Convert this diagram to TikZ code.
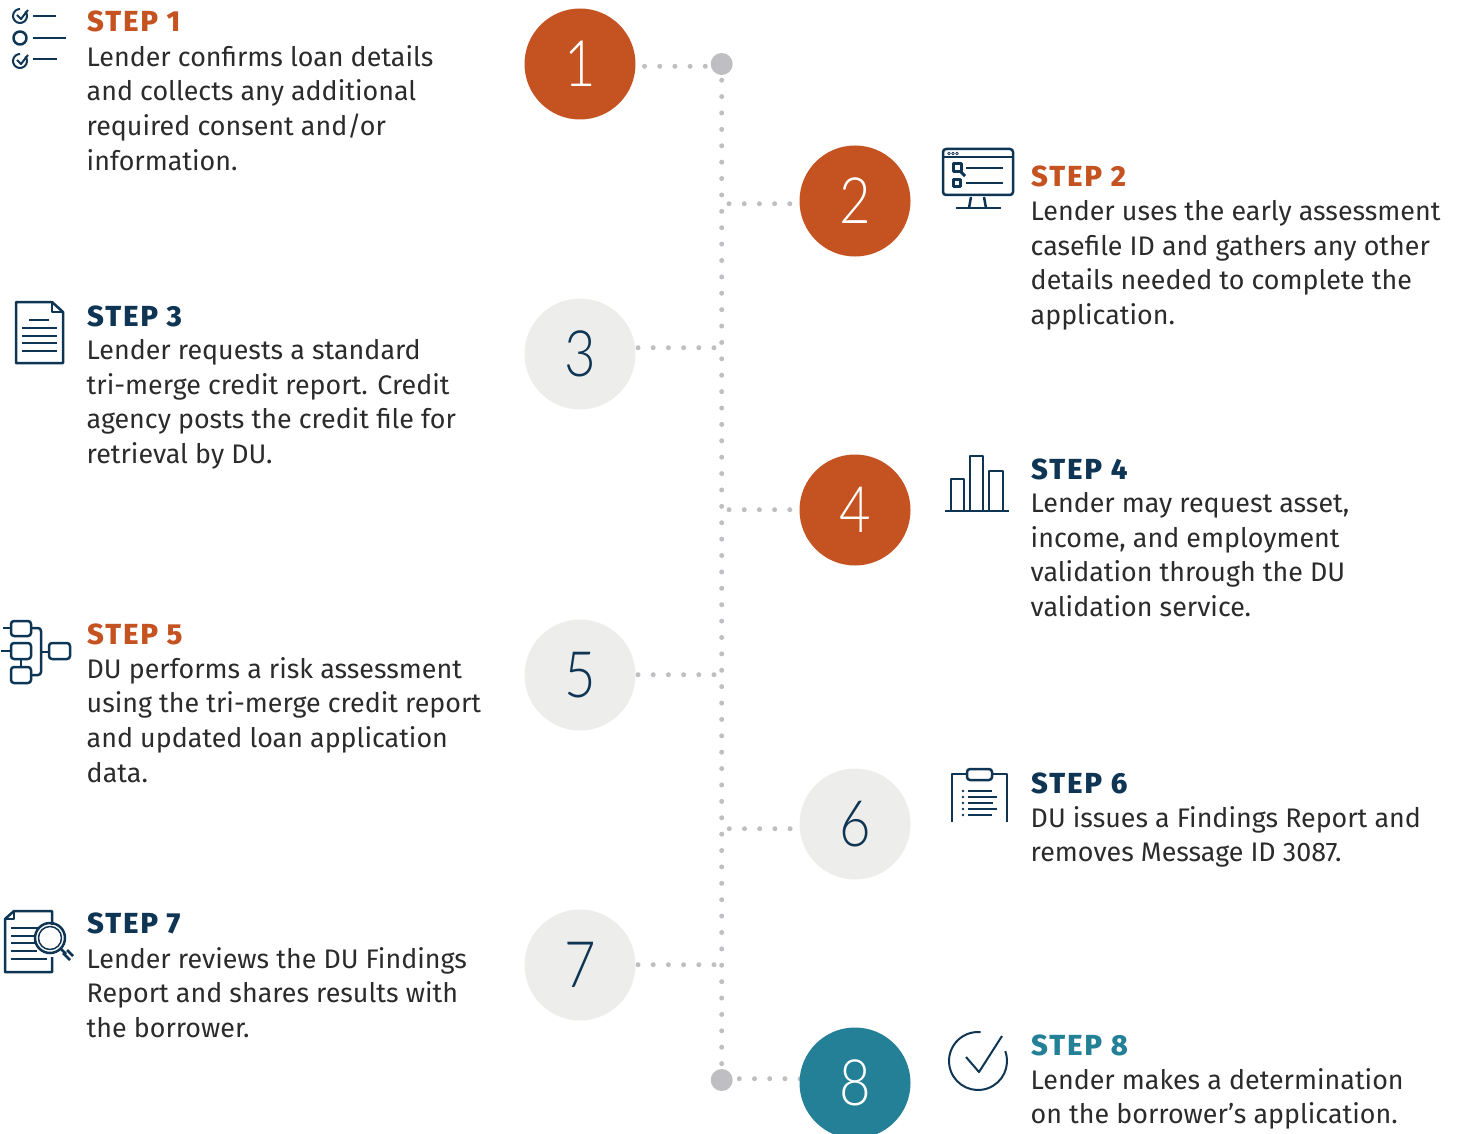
\documentclass[tikz,border=0pt]{standalone}
\usepackage{fontspec}
\usetikzlibrary{backgrounds}
\setmainfont{Fira Sans}
\newfontfamily\numfont[FakeStretch=.85]{Lato Light}
\newfontfamily\headfont[LetterSpace=7]{Fira Sans ExtraBold}
\definecolor{rust}{HTML}{C55321}
\definecolor{teal}{HTML}{238096}
\definecolor{navy}{HTML}{0F3554}
\definecolor{pale}{HTML}{EDEDEB}
\definecolor{dotgray}{HTML}{BFBFC3}
\definecolor{inkgray}{HTML}{2B2B2B}

\begin{document}
\begin{tikzpicture}[x=1pt, y=-1pt, line join=round]
\tikzstyle{every node}=[inner sep=0pt]
\tikzstyle{dotline}=[dotgray, line width=5pt, line cap=round, dash pattern=on 0pt off 16.39pt]
\tikzstyle{hdotline}=[dotgray, line width=5pt, line cap=round, dash pattern=on 0pt off 15.2pt]
\tikzstyle{numdisc}=[circle, minimum size=111pt, font=\numfont\fontsize{64}{64}\selectfont]
\tikzstyle{enddot}=[circle, minimum size=22pt, fill=dotgray]
\tikzstyle{stephead}=[anchor=base west, font=\headfont\fontsize{29}{34}\selectfont]
\tikzstyle{stepbody}=[anchor=north west, align=left, text=inkgray, font=\fontsize{26.85}{34.7}\selectfont, execute at begin node=\strut]
\tikzstyle{icon}=[navy, line width=2.5pt]
\tikzstyle{thinicon}=[navy, line width=2pt]
\useasboundingbox (0,0) rectangle (1458,1134);

\coordinate (j1) at (705.3,66.3);
\coordinate (j2) at (729,203.7);
\coordinate (j3) at (714,347.7);
\coordinate (j4) at (729,509.7);
\coordinate (j5) at (714,674.7);
\coordinate (j6) at (729.3,828.7);
\coordinate (j7) at (714,964.7);
\coordinate (j8) at (739.3,1078.7);

\node [enddot] (top) at (721.7,64) {};
\node [enddot] (bot) at (721.7,1080) {};
\node [numdisc, fill=rust, text=white] (c1) at (580,64) {1};
\node [numdisc, fill=rust, text=white] (c2) at (855,201) {2};
\node [numdisc, fill=pale, text=navy] (c3) at (580,354) {3};
\node [numdisc, fill=rust, text=white] (c4) at (855,510) {4};
\node [numdisc, fill=pale, text=navy] (c5) at (580,675) {5};
\node [numdisc, fill=pale, text=navy] (c6) at (855,824) {6};
\node [numdisc, fill=pale, text=navy] (c7) at (580,965) {7};
\node [numdisc, fill=teal, text=white] (c8) at (855,1083) {8};

\begin{scope}[on background layer]
\draw [dotline] (bot.center) -- (top.center);
\draw [hdotline] (j1) -- (c1.center |- j1);
\draw [hdotline] (j2) -- (c2.center |- j2);
\draw [hdotline] (j3) -- (c3.center |- j3);
\draw [hdotline] (j4) -- (c4.center |- j4);
\draw [hdotline] (j5) -- (c5.center |- j5);
\draw [hdotline] (j6) -- (c6.center |- j6);
\draw [hdotline] (j7) -- (c7.center |- j7);
\draw [hdotline] (j8) -- (c8.center |- j8);
\end{scope}

\node [stephead, text=rust] (s1) at (87,32) {STEP 1};
\node [stepbody] (b1) at (86.5,45) {Lender confirms loan details\\and collects any additional\\required consent and/or\\information.};
\node [stephead, text=rust] (s2) at (1031,186) {STEP 2};
\node [stepbody] (b2) at (1030.5,200) {Lender uses the early assessment\\casefile ID and gathers any other\\details needed to complete the\\application.};
\node [stephead, text=navy] (s3) at (87,326) {STEP 3};
\node [stepbody] (b3) at (86.5,339) {Lender requests a standard\\tri-merge credit report. Credit\\agency posts the credit file for\\retrieval by DU.};
\node [stephead, text=navy] (s4) at (1031,479) {STEP 4};
\node [stepbody] (b4) at (1030.5,492) {Lender may request asset,\\income, and employment\\validation through the DU\\validation service.};
\node [stephead, text=rust] (s5) at (87,644) {STEP 5};
\node [stepbody] (b5) at (86.5,657) {DU performs a risk assessment\\using the tri-merge credit report\\and updated loan application\\data.};
\node [stephead, text=navy] (s6) at (1031,793) {STEP 6};
\node [stepbody] (b6) at (1030.5,806) {DU issues a Findings Report and\\removes Message ID 3087.};
\node [stephead, text=navy] (s7) at (87,933) {STEP 7};
\node [stepbody] (b7) at (86.5,947) {Lender reviews the DU Findings\\Report and shares results with\\the borrower.};
\node [stephead, text=teal] (s8) at (1031,1055) {STEP 8};
\node [stepbody] (b8) at (1030.5,1068) {Lender makes a determination\\on the borrower’s application.};

% checklist
\draw [thinicon] (20,16) ++(-40:7) arc[start angle=-40, end angle=270, radius=7];
\draw [thinicon] (17,15) -- (21,19) -- (28,10);
\draw [icon] (33,16) -- (56,16);
\draw [icon] (20,38) circle [radius=6.5];
\draw [icon] (33,38) -- (66,38);
\draw [thinicon] (20,61) ++(-40:7) arc[start angle=-40, end angle=270, radius=7];
\draw [thinicon] (17,60) -- (21,64) -- (28,55);
\draw [icon] (33,59) -- (57,59);

% monitor
\draw [icon, rounded corners=3pt] (943,149) rectangle (1013,195);
\draw [icon] (943,157) -- (1013,157);
\foreach \x in {949,953,957} \draw [navy, line width=.7pt] (\x,153.5) circle [radius=1.4];
\draw [icon, line width=3pt] (953,164) rectangle (961,172);
\draw [icon, line width=3pt] (961,172) -- (965,176);
\draw [icon] (966,168) -- (1003,168);
\draw [icon, line width=3pt] (953,180) rectangle (960,187);
\draw [icon] (966,183) -- (1003,183);
\draw [icon] (971,197) -- (969,208);
\draw [icon] (984,197) -- (986,208);
\draw [icon] (956,208) -- (1001,208);

% page
\draw [icon] (52,302) -- (16,302) -- (16,363) -- (63,363) -- (63,312) -- cycle;
\draw [icon] (52,302) -- (52,312) -- (63,312);
\draw [icon] (29,320) -- (49,320);
\foreach \y in {328,336,343,351} \draw [icon] (22,\y) -- (57,\y);

% bars
\draw [icon] (951,511) -- (951,479) -- (964,479) -- (964,511);
\draw [icon] (970,511) -- (970,456) -- (983,456) -- (983,511);
\draw [icon] (989,511) -- (989,471) -- (1003,471) -- (1003,511);
\draw [icon] (945,511) -- (1009,511);

% flow chart
\draw [icon, rounded corners=3pt] (11,621) rectangle (31,636);
\draw [icon, rounded corners=3pt] (11,643) rectangle (31,659);
\draw [icon, rounded corners=3pt] (11,667) rectangle (31,683);
\draw [icon, rounded corners=3pt] (49,643) rectangle (70,659);
\draw [icon] (3,628) -- (11,628);
\draw [icon] (1,651) -- (11,651);
\draw [icon] (21,659) -- (21,667);
\draw [icon, rounded corners=3pt] (31,628) -- (41,628) -- (41,675) -- (31,675);
\draw [icon] (41,652) -- (49,652);

% clipboard
\draw [icon] (952,822) -- (952,774) -- (967,774);
\draw [icon] (992,774) -- (1007,774) -- (1007,822);
\draw [icon, rounded corners=3pt] (967,769) rectangle (992,780);
\foreach \y/\xe in {791/992,797/997,803/993,809/997,815/992} {
  \fill [navy] (963,\y) circle [radius=1.4];
  \draw [icon, line width=2pt] (968,\y) -- (\xe,\y);
}

% report and lens
\draw [icon] (52,925) -- (52,911) -- (14,911) -- (5,919) -- (5,972) -- (52,972) -- (52,957);
\draw [icon] (14,911) -- (14,919) -- (5,919);
\draw [icon] (11,928) -- (40,928);
\draw [icon] (11,936) -- (35,936);
\draw [icon] (11,943) -- (35,943);
\draw [icon] (11,951) -- (37,951);
\draw [icon] (11,959) -- (47,959);
\draw [icon] (50,938) circle [radius=15];
\draw [navy, line width=1.5pt] (50,938) circle [radius=11.5];
\draw [icon] (61,949) -- (66,954);
\draw [icon] (63,953) -- (70,960);
\draw [icon] (67,950) -- (73,956);

% tick
\draw [thinicon] (978,1061) ++(-20:29) arc[start angle=-20, end angle=275, radius=29];
\draw [thinicon] (966,1057) -- (979,1072) -- (1002,1036);
\end{tikzpicture}
\end{document}
